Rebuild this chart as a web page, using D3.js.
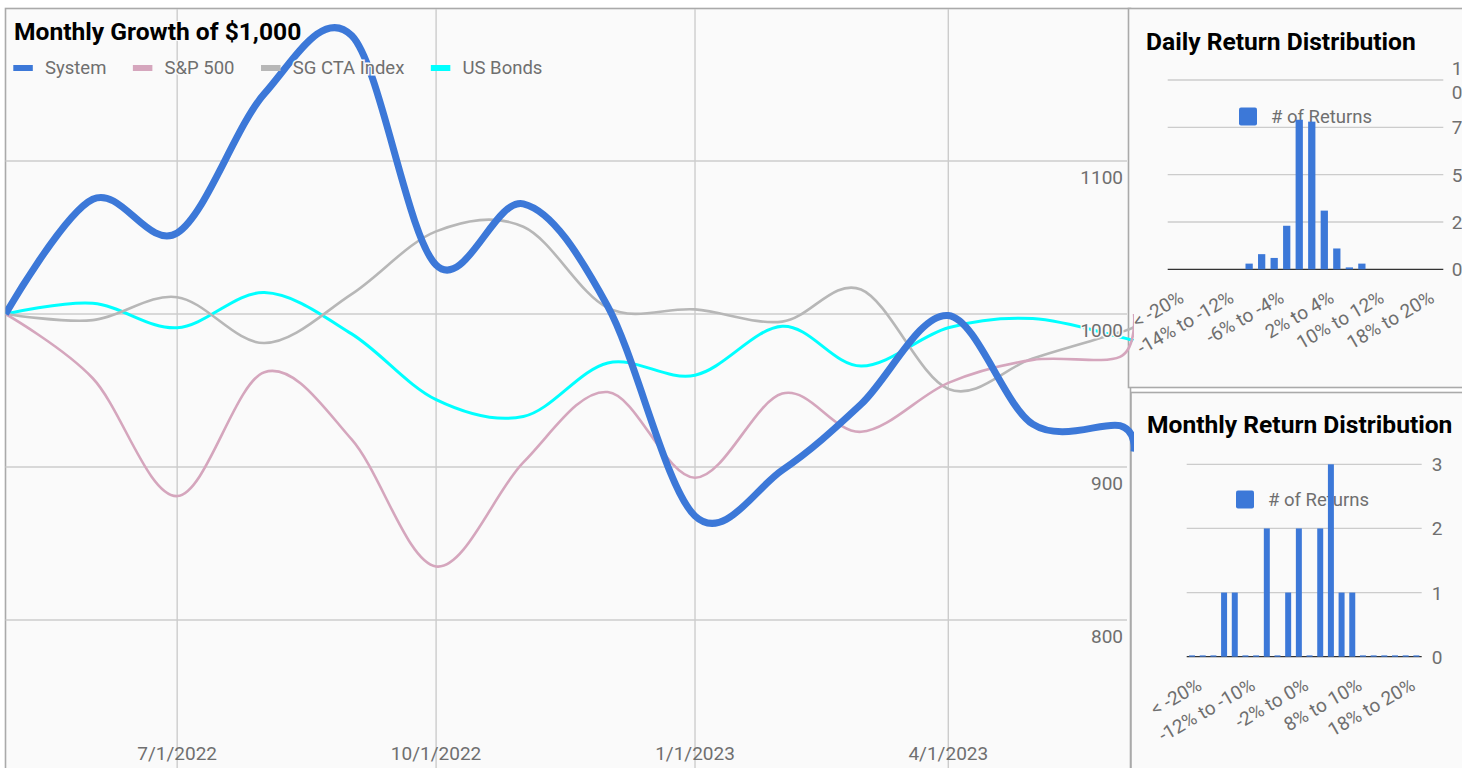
<!DOCTYPE html>
<html><head><meta charset="utf-8">
<script src="https://cdn.jsdelivr.net/npm/d3@7"></script>
<style>
html,body{margin:0;padding:0;background:#fff;overflow:hidden}
svg{display:block;font-family:Roboto,"Noto Sans",sans-serif}
</style></head><body>
<svg id="c" width="1462" height="768"></svg>
<script>
// ---------- DATA ----------
const dates = ["2022-05-01","2022-06-01","2022-07-01","2022-08-01","2022-09-01","2022-10-01","2022-11-01",
  "2022-12-01","2023-01-01","2023-02-01","2023-03-01","2023-04-01","2023-05-01","2023-06-01","2023-06-06"];
const seriesNames = ["System","S&P 500","SG CTA Index","US Bonds"];
const system  = [1000,1075,1053,1144,1182,1032,1072,1005,868,898,941,999,928,927,910];
const sp500   = [1000,958,881,962,918,835,903,949,893,948,923,955,970,972,1000];
const sgCta   = [1000,996,1011,981,1013,1054,1057,1004,1003,995,1016,951,971,988,992];
const usBonds = [1000,1007,991,1014,987,944,933,968,960,992,966,991,997,985,982];
const yTicks = [800,900,1000,1100];
const xTickDates = ["2022-07-01","2022-10-01","2023-01-01","2023-04-01"];
const xTickLabels = ["7/1/2022","10/1/2022","1/1/2023","4/1/2023"];

const returnBins = ["< -20%","-20% to -18%","-18% to -16%","-16% to -14%","-14% to -12%","-12% to -10%",
  "-10% to -8%","-8% to -6%","-6% to -4%","-4% to -2%","-2% to 0%","0% to 2%","2% to 4%","4% to 6%",
  "6% to 8%","8% to 10%","10% to 12%","12% to 14%","14% to 16%","16% to 18%","18% to 20%","> 20%"];
const dailyCounts   = [0,0,0,0,0,0,3,8,6,23,79,78,31,11,1,3,0,0,0,0,0,0];
const monthlyCounts = [0,0,0,1,1,0,0,2,0,1,2,0,2,3,1,1,0,0,0,0,0,0];
const dailyShownLabels   = ["< -20%","-14% to -12%","-6% to -4%","2% to 4%","10% to 12%","18% to 20%"];
const monthlyShownLabels = ["< -20%","-12% to -10%","-2% to 0%","8% to 10%","18% to 20%"];
const dailyTicks = [0,25,50,75,100];
const monthlyTicks = [0,1,2,3];
const barLegend = "# of Returns";

// ---------- STYLE ----------
const colors = ["#3c78d8","#d5a6bd","#b7b7b7","#00ffff"];
const widths = [7,2.6,2.6,3];
const BG = "#fafafa", GRID = "#cccccc", BORDER = "#aaaaaa", LABEL = "#6f6f6f";
const FS = 19, LFS = 18.5, TFS = 24.6;

const svg = d3.select("#c");
const parse = d3.utcParse("%Y-%m-%d");

// ---------- MAIN PANEL ----------
svg.append("rect").attr("x",5.5).attr("y",8.5).attr("width",1125).attr("height",770)
  .attr("fill",BG).attr("stroke",BORDER).attr("stroke-width",1.6);

const x = d3.scaleUtc().domain([parse("2022-05-01"), parse("2023-04-01")]).range([5.5, 948.3]);
const y = d3.scaleLinear().domain([800,1100]).range([620,161]);

// ---------- SIDE PANELS ----------
function barPanel(cfg){
  const g = svg.append("g");
  g.append("rect").attr("x",cfg.x0).attr("y",cfg.y0).attr("width",cfg.w).attr("height",cfg.h)
    .attr("fill",BG).attr("stroke",BORDER).attr("stroke-width",1.6);
  g.append("text").attr("x",cfg.titleX).attr("y",cfg.titleY).text(cfg.title)
    .attr("font-size",TFS).attr("font-weight","bold").attr("fill","#000");
  const xb = d3.scaleBand().domain(returnBins).range([cfg.left,cfg.right]).paddingInner(cfg.pad).paddingOuter(cfg.pad/2);
  const yb = d3.scaleLinear().domain(cfg.domain).range([cfg.base,cfg.top]);
  g.selectAll(".gl").data(cfg.ticks.filter(t=>t>0)).join("line")
    .attr("x1",cfg.left).attr("x2",cfg.right).attr("y1",d=>yb(d)).attr("y2",d=>yb(d))
    .attr("stroke",GRID).attr("stroke-width",1.3);
  // legend
  g.append("rect").attr("x",cfg.legX).attr("y",cfg.legY-9).attr("width",18).attr("height",18).attr("rx",2)
    .attr("fill",colors[0]);
  g.append("text").attr("x",cfg.legX+32).attr("y",cfg.legY+6.5).text(barLegend)
    .attr("font-size",LFS).attr("fill",LABEL);
  g.append("line").attr("x1",cfg.left).attr("x2",cfg.right).attr("y1",cfg.base).attr("y2",cfg.base)
    .attr("stroke","#333").attr("stroke-width",1.3);
  g.selectAll(".bar").data(cfg.counts).join("rect")
    .attr("x",(d,i)=>xb(returnBins[i])).attr("width",xb.bandwidth())
    .attr("y",d=>Math.min(yb(d), cfg.base-cfg.minH)).attr("height",d=>Math.max(cfg.base-yb(d),cfg.minH))
    .attr("fill",colors[0]);
  // y labels
  cfg.ticks.forEach(t=>{
    const s = String(t);
    const tx = g.append("text").attr("x",cfg.right+cfg.labDx).attr("font-size",FS).attr("fill",LABEL);
    if(s.length>2){
      tx.append("tspan").attr("x",cfg.right+cfg.labDx).attr("y",yb(t)-5).text(s.slice(0,2));
      tx.append("tspan").attr("x",cfg.right+cfg.labDx).attr("y",yb(t)+18.5).text(s.slice(2));
    } else tx.attr("y",yb(t)+7).text(s);
  });
  // x labels
  cfg.shown.forEach(lab=>{
    const cx = xb(lab)+xb.bandwidth()/2;
    g.append("text").attr("transform",`translate(${cx+11},${cfg.base+32}) rotate(-30)`)
      .attr("text-anchor","end").attr("font-size",FS).attr("fill",LABEL).text(lab);
  });
}

barPanel({x0:1128.5,y0:8.5,w:340,h:379,title:"Daily Return Distribution",titleX:1146,titleY:49.5,
  left:1167.7,right:1443.3,base:269.3,top:80,domain:[0,100],ticks:dailyTicks,counts:dailyCounts,
  shown:dailyShownLabels,pad:0.42,legX:1239,legY:116.5,minH:0,labDx:8.5});
barPanel({x0:1131,y0:392.5,w:340,h:400,title:"Monthly Return Distribution",titleX:1147,titleY:433,
  left:1186.7,right:1421.7,base:656.7,top:464.3,domain:[0,3],ticks:monthlyTicks,counts:monthlyCounts,
  shown:monthlyShownLabels,pad:0.44,legX:1236,legY:499.5,minH:1.3,labDx:10});

// ---------- MAIN GRID ----------
const main = svg.append("g");
main.selectAll(".hg").data(yTicks).join("line")
  .attr("x1",5.5).attr("x2",1127).attr("y1",d=>y(d)).attr("y2",d=>y(d))
  .attr("stroke",GRID).attr("stroke-width",1.4);
main.selectAll(".vg").data(xTickDates).join("line")
  .attr("x1",d=>x(parse(d))).attr("x2",d=>x(parse(d))).attr("y1",9).attr("y2",768)
  .attr("stroke",GRID).attr("stroke-width",1.4);

svg.append("clipPath").attr("id","clipMain").append("rect").attr("x",5.5).attr("y",9).attr("width",1128.5).attr("height",760);

const allSeries = [system, sp500, sgCta, usBonds];
const line = d3.line().x((d,i)=>x(parse(dates[i]))).y(d=>y(d)).curve(d3.curveCardinal.tension(0));
const lines = main.append("g").attr("clip-path","url(#clipMain)");
[3,2,1,0].forEach(k=>{
  lines.append("path").datum(allSeries[k]).attr("d",line).attr("fill","none")
    .attr("stroke",colors[k]).attr("stroke-width",widths[k]).attr("stroke-linejoin","round");
});

// y labels with halo
main.selectAll(".yl").data(yTicks).join("text")
  .attr("x",1123).attr("y",d=>y(d)+22.5).attr("text-anchor","end")
  .attr("font-size",FS).attr("fill",LABEL).attr("stroke",BG).attr("stroke-width",3).attr("paint-order","stroke")
  .text(d=>d);
// x labels
main.selectAll(".xl").data(xTickDates).join("text")
  .attr("x",d=>x(parse(d))).attr("y",759.5).attr("text-anchor","middle")
  .attr("font-size",FS).attr("fill",LABEL)
  .text((d,i)=>xTickLabels[i]);

// title + legend
main.append("text").attr("x",14).attr("y",39.5).text("Monthly Growth of $1,000")
  .attr("font-size",TFS).attr("font-weight","bold").attr("fill","#000")
  .attr("stroke",BG).attr("stroke-width",2).attr("paint-order","stroke");
let lx = 13.3;
seriesNames.forEach((n,i)=>{
  main.append("rect").attr("x",lx).attr("y",65).attr("width",19.5).attr("height",6).attr("fill",colors[i]);
  const t = main.append("text").attr("x",lx+31.7).attr("y",74).text(n)
    .attr("font-size",LFS).attr("fill",LABEL).attr("stroke",BG).attr("stroke-width",3).attr("paint-order","stroke");
  lx = lx + 31.7 + t.node().getComputedTextLength() + 26.5;
});
</script>
</body></html>
